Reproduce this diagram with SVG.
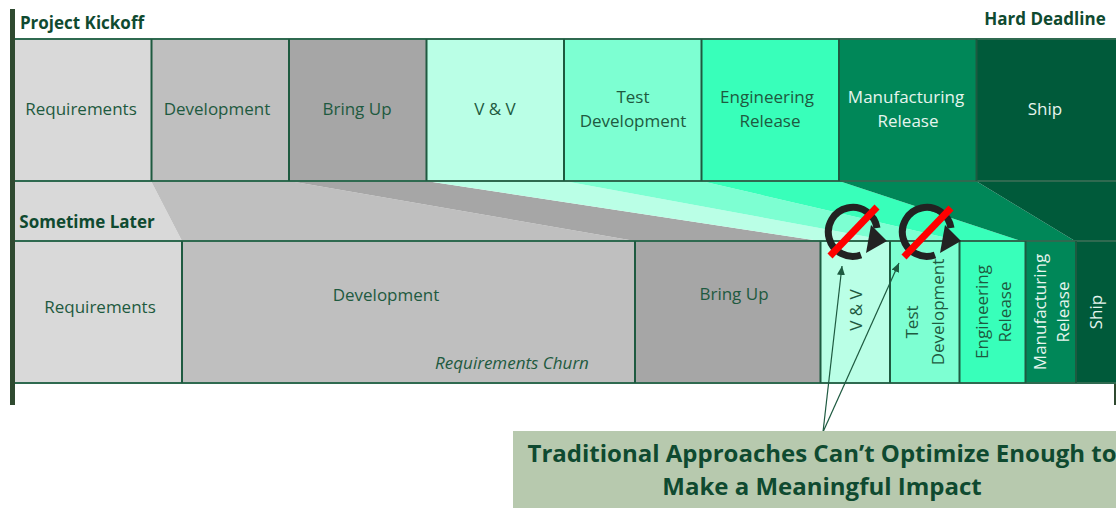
<svg xmlns="http://www.w3.org/2000/svg" width="1116" height="508" viewBox="0 0 1116 508">
<style>
text{font-family:"Open Sans","Noto Sans","Liberation Sans",sans-serif;fill:#1e5a40;text-anchor:middle;font-size:17px}
.w{fill:#e6f5ee}
.b{font-weight:700;fill:#0f4a30}
.c{stroke:#2f6a50;stroke-width:2}
.c2{stroke:#1e5a40;stroke-width:2}
.loop{fill:none;stroke:#222;stroke-width:7}
.hd{fill:#222}
.no{stroke:#f00;stroke-width:7}
.ar{stroke:#1e5a40;stroke-width:1.2;fill:none;marker-end:url(#tip)}
</style>
<defs><marker id="tip" markerUnits="userSpaceOnUse" markerWidth="10" markerHeight="10" refX="9" refY="4" orient="auto"><path d="M0 0L9 4L0 8Z" fill="#1e5a40"/></marker></defs>
<g id="funnel">
<polygon points="15,181 151,181 182,241 15,241" fill="#d9d9d9"/>
<polygon points="151,181 289,181 635,241 182,241" fill="#bfbfbf"/>
<polygon points="289,181 426,181 820,241 635,241" fill="#a6a6a6"/>
<polygon points="426,181 564,181 890,241 820,241" fill="#baffe6"/>
<polygon points="564,181 701,181 960,241 890,241" fill="#7dffd2"/>
<polygon points="701,181 839,181 1021,241 960,241" fill="#38ffba"/>
<polygon points="839,181 976,181 1075,241 1021,241" fill="#008758"/>
<polygon points="976,181 1116,181 1116,241 1075,241" fill="#005a3a"/>
</g>
<g id="axis"><rect x="10" y="9" width="5" height="396" fill="#2f4a30"/><rect x="1114" y="383" width="2" height="22" fill="#2f4a30"/></g>
<text class="b" x="82" y="29" font-size="17" style="font-size:17px">Project Kickoff</text>
<text class="b" x="1045" y="25" style="font-size:17px">Hard Deadline</text>
<text class="b" x="87" y="228" style="font-size:17px">Sometime Later</text>
<g id="top-row">
<g id="t1"><rect x="15" y="39" width="136.500" height="142" fill="#d9d9d9"/><text x="81" y="115">Requirements</text></g>
<g id="t2"><rect x="151.500" y="39" width="137.500" height="142" fill="#bfbfbf"/><text x="217" y="115">Development</text></g>
<g id="t3"><rect x="289" y="39" width="137.500" height="142" fill="#a6a6a6"/><text x="357" y="115">Bring Up</text></g>
<g id="t4"><rect x="426.500" y="39" width="137.500" height="142" fill="#baffe6"/><text x="495" y="115">V &amp; V</text></g>
<g id="t5"><rect x="564" y="39" width="137.500" height="142" fill="#7dffd2"/><text x="633" y="103">Test</text><text x="633" y="127">Development</text></g>
<g id="t6"><rect x="701.500" y="39" width="137.500" height="142" fill="#38ffba"/><text x="767" y="103">Engineering</text><text x="770" y="127">Release</text></g>
<g id="t7"><rect x="839" y="39" width="137.500" height="142" fill="#008758"/><text class="w" x="906" y="103">Manufacturing</text><text class="w" x="908" y="127">Release</text></g>
<g id="t8"><rect x="976.500" y="39" width="139.500" height="142" fill="#005a3a"/><text class="w" x="1045" y="115">Ship</text></g>
</g>
<g id="bottom-row">
<g id="b1"><rect x="15" y="241" width="167" height="142" fill="#d9d9d9"/><text x="100" y="313">Requirements</text></g>
<g id="b2"><rect x="182" y="241" width="453" height="142" fill="#bfbfbf"/><text x="386" y="301">Development</text><text x="512" y="369" font-style="italic">Requirements Churn</text></g>
<g id="b3"><rect x="635" y="241" width="185.500" height="142" fill="#a6a6a6"/><text x="734" y="300">Bring Up</text></g>
<g id="b4"><rect x="820.500" y="241" width="69.500" height="142" fill="#baffe6"/><text transform="translate(862,310) rotate(-90)">V &amp; V</text></g>
<g id="b5"><rect x="890" y="241" width="69.500" height="142" fill="#7dffd2"/><text transform="translate(918,322) rotate(-90)">Test</text><text transform="translate(944,312) rotate(-90)">Development</text></g>
<g id="b6"><rect x="959.500" y="241" width="66" height="142" fill="#38ffba"/><text transform="translate(988,312) rotate(-90)">Engineering</text><text transform="translate(1011,312) rotate(-90)">Release</text></g>
<g id="b7"><rect x="1025.500" y="241" width="50.500" height="142" fill="#008758"/><text class="w" transform="translate(1046,312) rotate(-90)">Manufacturing</text><text class="w" transform="translate(1069,312) rotate(-90)">Release</text></g>
<g id="b8"><rect x="1076" y="241" width="40" height="142" fill="#005a3a"/><text class="w" transform="translate(1102,312) rotate(-90)">Ship</text></g>
</g>
<g id="rules">
<path class="c" fill="none" d="M15 39H1116M15 181H1116M15 241H1116M15 383H1116"/>
<path class="c2" fill="none" d="M151.500 39V181M289 39V181M426.500 39V181M564 39V181M701.500 39V181M839 39V181M976.500 39V181M182 241V383M635 241V383M820.500 241V383M890 241V383M959.500 241V383M1025.500 241V383M1076 241V383"/>
</g>
<g id="loop1"><path class="loop" d="M861 255A24.500 24.500 0 1 1 877 228"/><polygon class="hd" points="866,253 887,241 871,225"/><line class="no" x1="830" y1="256" x2="877" y2="207"/></g>
<g id="loop2"><path class="loop" d="M935 255A24.500 24.500 0 1 1 951 228"/><polygon class="hd" points="940,253 961,241 945,225"/><line class="no" x1="904" y1="257" x2="951" y2="208"/></g>
<g id="connectors"><path class="ar" d="M823 432L842 266"/><path class="ar" d="M823 432L899 263"/></g>
<g id="callout"><rect x="513" y="431" width="603" height="77" fill="#b7c9ae"/><text class="b" x="822" y="462" style="font-size:24px">Traditional Approaches Can’t Optimize Enough to</text><text class="b" x="822" y="495" style="font-size:24px">Make a Meaningful Impact</text></g>
</svg>
